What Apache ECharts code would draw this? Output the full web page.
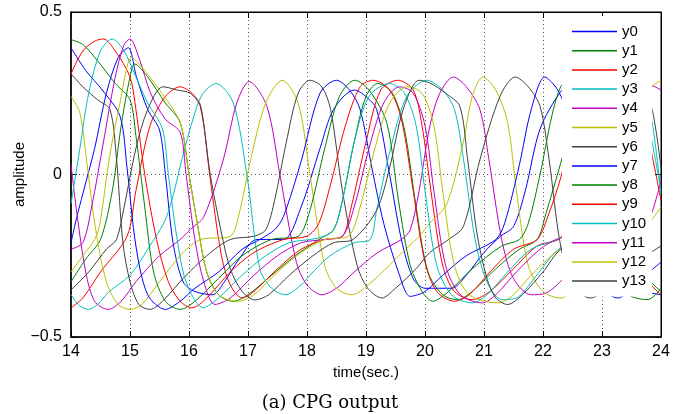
<!DOCTYPE html>
<html><head><meta charset="utf-8">
<script src="https://cdn.jsdelivr.net/npm/echarts@6/dist/echarts.min.js"></script>
<style>html,body{margin:0;padding:0;background:#fff}#c{width:677px;height:414px}</style>
</head><body><div id="c"></div>
<script>
// ---- data (time in s, amplitude) ----
const xTicks = [14, 15, 16, 17, 18, 19, 20, 21, 22, 23, 24];
const yTicks = [-0.5, 0, 0.5];
const seriesNames = ['y0','y1','y2','y3','y4','y5','y6','y7','y8','y9','y10','y11','y12','y13'];

const y0 = [[14.0,-0.21],[14.1,-0.13],[14.2,-0.06],[14.4,0.08],[14.6,0.25],[14.8,0.36],[14.97,0.39],[15.11,0.3],[15.3,0.2],[15.5,0.137],[15.6,0.0],[15.73,-0.21],[15.9,-0.33],[16.1,-0.36],[16.4,-0.37],[16.6,-0.33],[16.85,-0.26],[17.15,-0.2],[17.6,-0.2],[17.9,-0.1],[18.22,0.08],[18.45,0.2],[18.8,0.26],[19.0,0.24],[19.18,0.2],[19.4,0.0],[19.6,-0.2],[19.8,-0.32],[20.0,-0.35],[20.45,-0.35],[20.7,-0.31],[21.0,-0.24],[21.28,-0.19],[21.5,-0.16],[21.7,-0.05],[21.95,0.14],[22.3,0.255],[22.5,0.28],[22.8,0.2],[23.05,-0.05],[23.3,-0.28],[23.6,-0.35],[24.0,-0.37]];
const y1 = [[14.0,-0.33],[14.25,-0.26],[14.5,-0.2],[14.7,-0.05],[14.85,0.15],[15.0,0.3],[15.08,0.34],[15.3,0.3],[15.6,0.22],[15.85,0.16],[16.0,0.0],[16.15,-0.16],[16.3,-0.3],[16.5,-0.37],[16.75,-0.39],[17.0,-0.37],[17.4,-0.31],[17.8,-0.25],[18.2,-0.2],[18.45,-0.17],[18.6,-0.08],[18.8,0.1],[19.0,0.24],[19.2,0.28],[19.45,0.25],[19.65,0.14],[19.85,-0.1],[20.05,-0.3],[20.3,-0.37],[20.55,-0.385],[20.8,-0.36],[21.2,-0.29],[21.6,-0.23],[21.9,-0.2],[22.05,-0.12],[22.3,0.035],[22.55,0.2],[22.8,0.28],[23.05,0.25],[23.3,0.1],[23.5,-0.15],[23.7,-0.3],[24.0,-0.36]];
const y2 = [[14.0,-0.41],[14.2,-0.38],[14.5,-0.3],[14.95,-0.19],[15.1,-0.05],[15.34,0.15],[15.6,0.24],[15.85,0.27],[16.05,0.25],[16.2,0.21],[16.35,0.0],[16.55,-0.25],[16.7,-0.34],[16.9,-0.38],[17.1,-0.36],[17.5,-0.29],[17.9,-0.23],[18.3,-0.2],[18.6,-0.19],[18.75,-0.1],[19.0,0.1],[19.25,0.26],[19.54,0.29],[19.8,0.26],[19.95,0.15],[20.1,-0.05],[20.3,-0.28],[20.5,-0.36],[20.8,-0.385],[21.1,-0.36],[21.5,-0.29],[21.9,-0.22],[22.3,-0.195],[22.55,-0.1],[22.8,0.1],[23.05,0.25],[23.3,0.29],[23.55,0.25],[23.75,0.14],[24.0,-0.08]];
const y3 = [[14.0,-0.37],[14.15,-0.405],[14.3,-0.415],[14.45,-0.4],[14.65,-0.36],[15.0,-0.31],[15.3,-0.23],[15.62,-0.13],[15.9,0.06],[16.05,0.16],[16.22,0.245],[16.46,0.28],[16.75,0.22],[16.98,0.0],[17.2,-0.29],[17.4,-0.35],[17.63,-0.37],[17.9,-0.34],[18.05,-0.31],[18.39,-0.25],[18.8,-0.21],[19.07,-0.2],[19.18,-0.11],[19.41,0.075],[19.69,0.24],[20.03,0.29],[20.3,0.26],[20.5,0.2],[20.65,0.05],[20.85,-0.2],[21.05,-0.33],[21.3,-0.385],[21.55,-0.38],[21.85,-0.32],[22.2,-0.24],[22.5,-0.2],[22.75,-0.16],[22.95,0.0],[23.2,0.2],[23.45,0.28],[23.7,0.25],[23.85,0.16],[24.0,-0.06]];
const y4 = [[14.0,0.03],[14.1,-0.12],[14.25,-0.3],[14.4,-0.39],[14.63,-0.415],[14.85,-0.39],[15.1,-0.33],[15.5,-0.25],[15.85,-0.2],[16.02,-0.17],[16.25,-0.13],[16.58,0.045],[16.81,0.22],[17.02,0.286],[17.32,0.21],[17.54,0.0],[17.82,-0.27],[18.0,-0.34],[18.25,-0.37],[18.5,-0.35],[18.8,-0.3],[19.2,-0.24],[19.6,-0.2],[19.75,-0.17],[19.9,-0.05],[20.08,0.147],[20.25,0.25],[20.48,0.3],[20.7,0.27],[20.93,0.2],[21.08,0.05],[21.3,-0.2],[21.5,-0.32],[21.8,-0.37],[22.05,-0.365],[22.35,-0.32],[22.8,-0.24],[23.2,-0.2],[23.6,-0.19],[23.8,-0.14],[24.0,-0.02]];
const y5 = [[14.0,0.24],[14.15,0.19],[14.28,0.02],[14.41,-0.16],[14.6,-0.33],[14.8,-0.4],[15.0,-0.415],[15.2,-0.4],[15.5,-0.33],[15.9,-0.24],[16.2,-0.2],[16.7,-0.19],[16.85,-0.12],[17.05,0.05],[17.3,0.22],[17.58,0.29],[17.85,0.22],[18.05,0.0],[18.3,-0.28],[18.5,-0.35],[18.76,-0.37],[19.1,-0.33],[19.5,-0.26],[19.9,-0.19],[20.08,-0.15],[20.37,-0.09],[20.65,0.1],[20.8,0.24],[20.98,0.3],[21.2,0.26],[21.4,0.16],[21.55,-0.05],[21.75,-0.28],[22.0,-0.36],[22.3,-0.38],[22.55,-0.35],[22.9,-0.27],[23.3,-0.21],[23.6,-0.19],[23.8,-0.15],[24.0,-0.1]];
const y6 = [[14.0,0.31],[14.2,0.27],[14.45,0.23],[14.66,0.2],[14.77,0.05],[14.88,-0.21],[15.0,-0.33],[15.15,-0.4],[15.34,-0.415],[15.55,-0.39],[15.9,-0.32],[16.3,-0.25],[16.7,-0.2],[17.1,-0.19],[17.3,-0.17],[17.45,-0.08],[17.65,0.1],[17.85,0.25],[18.05,0.29],[18.25,0.27],[18.4,0.2],[18.6,-0.05],[18.85,-0.28],[19.03,-0.35],[19.27,-0.38],[19.5,-0.35],[19.85,-0.29],[20.08,-0.24],[20.4,-0.2],[20.65,-0.16],[20.93,0.045],[21.27,0.24],[21.53,0.3],[21.75,0.27],[21.95,0.21],[22.1,0.05],[22.29,-0.21],[22.5,-0.34],[22.8,-0.38],[23.1,-0.35],[23.5,-0.28],[24.0,-0.22]];
const y7 = [[14.0,0.39],[14.25,0.32],[14.53,0.26],[14.83,0.18],[14.95,0.02],[15.1,-0.22],[15.3,-0.37],[15.6,-0.415],[15.85,-0.39],[16.1,-0.35],[16.5,-0.3],[16.9,-0.23],[17.2,-0.2],[17.45,-0.17],[17.6,-0.13],[17.9,0.04],[18.22,0.25],[18.5,0.29],[18.72,0.26],[18.9,0.2],[19.1,0.02],[19.3,-0.15],[19.55,-0.3],[19.75,-0.375],[20.0,-0.36],[20.3,-0.31],[20.7,-0.25],[21.2,-0.2],[21.35,-0.15],[21.6,0.03],[21.8,0.2],[22.03,0.3],[22.25,0.26],[22.45,0.17],[22.6,0.0],[22.8,-0.25],[23.0,-0.35],[23.27,-0.38],[23.5,-0.35],[23.8,-0.3],[24.0,-0.27]];
const y8 = [[14.0,0.415],[14.2,0.4],[14.45,0.35],[14.75,0.28],[15.0,0.23],[15.1,0.12],[15.25,-0.1],[15.4,-0.3],[15.6,-0.39],[15.85,-0.415],[16.1,-0.39],[16.5,-0.32],[16.9,-0.25],[17.4,-0.2],[17.85,-0.19],[18.05,-0.11],[18.3,0.08],[18.55,0.24],[18.81,0.29],[19.05,0.26],[19.35,0.16],[19.55,-0.08],[19.75,-0.28],[19.95,-0.36],[20.13,-0.39],[20.4,-0.36],[20.8,-0.29],[21.3,-0.22],[21.6,-0.2],[21.75,-0.15],[21.95,0.0],[22.15,0.18],[22.3,0.27],[22.45,0.29],[22.65,0.25],[22.85,0.12],[23.0,-0.1],[23.2,-0.3],[23.45,-0.37],[23.78,-0.385],[24.0,-0.35]];
const y9 = [[14.0,0.31],[14.2,0.38],[14.4,0.41],[14.55,0.417],[14.75,0.38],[15.0,0.3],[15.1,0.2],[15.25,0.0],[15.45,-0.2],[15.65,-0.33],[15.85,-0.39],[16.05,-0.41],[16.3,-0.38],[16.7,-0.3],[17.1,-0.24],[17.6,-0.2],[18.0,-0.19],[18.2,-0.15],[18.4,-0.03],[18.65,0.15],[18.9,0.27],[19.12,0.29],[19.4,0.26],[19.6,0.17],[19.8,-0.05],[20.0,-0.27],[20.2,-0.36],[20.5,-0.39],[20.75,-0.37],[21.1,-0.3],[21.5,-0.23],[21.9,-0.2],[22.1,-0.12],[22.3,-0.01],[22.55,0.18],[22.8,0.28],[23.0,0.27],[23.2,0.2],[23.4,0.03],[23.6,-0.2],[23.8,-0.33],[24.0,-0.37]];
const y10 = [[14.0,-0.09],[14.15,0.08],[14.3,0.25],[14.5,0.38],[14.7,0.417],[14.9,0.38],[15.1,0.3],[15.3,0.22],[15.55,0.14],[15.65,0.0],[15.8,-0.2],[15.95,-0.33],[16.24,-0.41],[16.5,-0.38],[16.9,-0.31],[17.3,-0.25],[17.7,-0.21],[18.2,-0.195],[18.45,-0.17],[18.6,-0.08],[18.8,0.1],[19.05,0.24],[19.4,0.28],[19.65,0.25],[19.85,0.15],[20.0,-0.05],[20.2,-0.28],[20.45,-0.37],[20.8,-0.395],[21.05,-0.37],[21.4,-0.3],[21.8,-0.23],[22.3,-0.195],[22.55,-0.15],[22.75,0.0],[23.0,0.18],[23.3,0.28],[23.55,0.26],[23.75,0.18],[23.9,0.05],[24.0,-0.05]];
const y11 = [[14.0,-0.23],[14.2,-0.21],[14.35,-0.1],[14.55,0.1],[14.75,0.3],[14.9,0.4],[15.0,0.417],[15.15,0.36],[15.35,0.25],[15.6,0.17],[15.85,0.13],[15.95,0.0],[16.1,-0.2],[16.25,-0.33],[16.44,-0.4],[16.7,-0.38],[17.1,-0.31],[17.5,-0.25],[17.9,-0.21],[18.3,-0.2],[18.6,-0.19],[18.8,-0.1],[19.05,0.08],[19.3,0.22],[19.57,0.27],[19.8,0.25],[20.0,0.15],[20.15,-0.05],[20.35,-0.28],[20.6,-0.37],[20.97,-0.395],[21.2,-0.37],[21.55,-0.3],[21.95,-0.23],[22.3,-0.195],[22.7,-0.19],[22.9,-0.12],[23.15,0.05],[23.45,0.22],[23.75,0.28],[24.0,0.26]];
const y12 = [[14.0,-0.3],[14.2,-0.25],[14.4,-0.2],[14.49,-0.15],[14.65,0.05],[14.83,0.22],[15.03,0.36],[15.2,0.33],[15.5,0.26],[15.85,0.16],[16.0,0.0],[16.15,-0.16],[16.3,-0.3],[16.5,-0.37],[16.84,-0.39],[17.1,-0.37],[17.5,-0.3],[17.9,-0.24],[18.3,-0.2],[18.7,-0.19],[18.9,-0.1],[19.15,0.08],[19.4,0.22],[19.7,0.27],[19.95,0.25],[20.15,0.15],[20.3,-0.05],[20.5,-0.28],[20.75,-0.37],[21.24,-0.395],[21.5,-0.37],[21.85,-0.3],[22.3,-0.23],[22.8,-0.2],[23.1,-0.19],[23.3,-0.1],[23.55,0.1],[23.8,0.26],[24.0,0.29]];
const y13 = [[14.0,-0.355],[14.3,-0.3],[14.6,-0.23],[14.77,-0.2],[14.9,-0.1],[15.1,0.08],[15.3,0.2],[15.56,0.27],[15.8,0.26],[16.02,0.25],[16.19,0.21],[16.36,0.0],[16.55,-0.18],[16.7,-0.29],[16.9,-0.36],[17.12,-0.386],[17.35,-0.37],[17.7,-0.31],[18.1,-0.25],[18.45,-0.21],[18.78,-0.2],[19.18,-0.11],[19.4,0.02],[19.63,0.2],[19.9,0.29],[20.1,0.28],[20.35,0.25],[20.59,0.21],[20.72,0.05],[20.88,-0.18],[21.05,-0.32],[21.2,-0.38],[21.4,-0.4],[21.65,-0.37],[22.0,-0.3],[22.3,-0.23],[22.7,-0.2],[23.0,-0.13],[23.25,0.05],[23.5,0.2],[23.7,0.25],[23.85,0.2],[24.0,0.02]];

const seriesData = [y0, y1, y2, y3, y4, y5, y6, y7, y8, y9, y10, y11, y12, y13];
const palette = ['#0000ff', '#008000', '#ff0000', '#00bfbf', '#bf00bf', '#bfbf00', '#404040'];

const FONT = 'Liberation Sans, Arial, sans-serif';
const chart = echarts.init(document.getElementById('c'), null, {renderer: 'canvas'});

const tickFmt = v => {
  if (Math.abs(v) < 1e-9) return '0';
  return v < 0 ? '\u2212' + String(-v) : String(v);
};

chart.setOption({
  animation: false,
  backgroundColor: '#fff',
  grid: {left: 71, right: 16, top: 12, bottom: 77, show: true, borderColor: '#000', borderWidth: 1,
         containLabel: false, outerBoundsMode: 'none'},
  legend: {
    orient: 'vertical', left: 562, top: 16,
    padding: [8, 6, 8, 10],
    backgroundColor: '#fff',
    icon: 'rect',
    itemWidth: 45, itemHeight: 1.5, itemGap: 4.2,
    textStyle: {fontFamily: FONT, fontSize: 15, color: '#000'},
    data: seriesNames
  },
  xAxis: [{
    type: 'value', min: xTicks[0], max: xTicks[xTicks.length - 1], interval: 1,
    name: 'time(sec.)', nameLocation: 'middle', nameGap: 27,
    nameTextStyle: {fontFamily: FONT, fontSize: 15, color: '#000'},
    axisLine: {show: true, onZero: false, lineStyle: {color: '#000', width: 1.5}},
    axisTick: {show: true, inside: true, length: 6, lineStyle: {color: '#000'}},
    axisLabel: {fontFamily: FONT, fontSize: 16, color: '#000', margin: 7},
    splitLine: {show: true, lineStyle: {color: '#555', type: [1, 3], width: 1}}
  }, {
    type: 'value', position: 'top', min: xTicks[0], max: xTicks[xTicks.length - 1], interval: 1,
    axisLine: {show: true, onZero: false, lineStyle: {color: '#000', width: 1}},
    axisTick: {show: true, inside: true, length: 6, lineStyle: {color: '#000'}},
    axisLabel: {show: false}, splitLine: {show: false}
  }],
  yAxis: [{
    type: 'value', min: yTicks[0], max: yTicks[yTicks.length - 1], interval: 0.5,
    name: 'amplitude', nameLocation: 'middle', nameGap: 44, nameRotate: 90, nameMoveOverlap: false,
    nameTextStyle: {fontFamily: FONT, fontSize: 15, color: '#000'},
    axisLine: {show: true, onZero: false, lineStyle: {color: '#000', width: 1.5}},
    axisTick: {show: true, inside: true, length: 6, lineStyle: {color: '#000'}},
    axisLabel: {fontFamily: FONT, fontSize: 16, color: '#000', margin: 9, formatter: tickFmt},
    splitLine: {show: true, lineStyle: {color: '#555', type: [1, 3], width: 1}}
  }, {
    type: 'value', position: 'right', min: yTicks[0], max: yTicks[yTicks.length - 1], interval: 0.5,
    axisLine: {show: true, onZero: false, lineStyle: {color: '#000', width: 1}},
    axisTick: {show: true, inside: true, length: 6, lineStyle: {color: '#000'}},
    axisLabel: {show: false}, splitLine: {show: false}
  }],
  graphic: [{
    type: 'text', x: 330, y: 403,
    style: {text: '(a) CPG output', fontFamily: 'DejaVu Serif, Liberation Serif, serif', fontSize: 18,
            fill: '#000', textAlign: 'center', textVerticalAlign: 'middle'}
  }],
  series: seriesNames.map((name, i) => ({
    name: name, type: 'line', data: seriesData[i],
    xAxisIndex: 0, yAxisIndex: 0,
    symbol: 'none', showSymbol: false, smooth: 0.3,
    lineStyle: {width: 1, color: palette[i % 7]},
    itemStyle: {color: palette[i % 7]},
    emphasis: {disabled: true}, z: 2
  }))
});
</script></body></html>
